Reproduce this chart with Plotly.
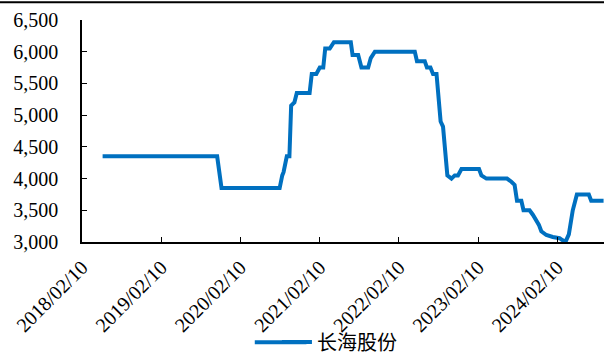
import plotly.graph_objects as go

# --- data (weekly price, step-like) ---
dates = [
    "2018-05-16", "2019-10-26", "2019-11-15", "2020-08-09", "2020-08-21",
    "2020-08-27", "2020-09-11", "2020-09-23", "2020-10-01", "2020-10-16",
    "2020-10-27", "2020-12-25", "2021-01-04", "2021-01-25", "2021-02-10",
    "2021-02-26", "2021-03-07", "2021-03-28", "2021-04-16", "2021-07-03",
    "2021-07-11", "2021-08-06", "2021-08-21", "2021-09-21", "2021-10-03",
    "2021-10-22", "2022-04-24", "2022-05-04", "2022-06-09", "2022-06-19",
    "2022-07-05", "2022-07-17", "2022-08-02", "2022-08-14", "2022-08-21",
    "2022-09-01", "2022-09-21", "2022-10-10", "2022-10-25", "2022-11-09",
    "2022-11-25", "2023-02-14", "2023-02-25", "2023-03-20", "2023-06-23",
    "2023-07-13", "2023-07-28", "2023-08-08", "2023-08-28", "2023-09-07",
    "2023-10-05", "2023-10-20", "2023-11-05", "2023-11-17", "2023-11-28",
    "2023-12-21", "2024-01-20", "2024-02-20", "2024-03-06", "2024-03-19",
    "2024-04-03", "2024-04-21", "2024-05-10", "2024-07-04", "2024-07-15",
    "2024-09-10",
]
prices = [
    4350, 4350, 3850, 3850, 4050,
    4100, 4350, 4350, 5150, 5200,
    5350, 5350, 5650, 5650, 5750,
    5750, 6050, 6050, 6150, 6150,
    5950, 5950, 5750, 5750, 5900,
    6000, 6000, 5850, 5850, 5750,
    5750, 5650, 5650, 5200, 4900,
    4820, 4050, 4000, 4050, 4050,
    4150, 4150, 4050, 4000, 4000,
    3950, 3900, 3650, 3650, 3500,
    3500, 3430, 3350, 3270, 3170,
    3110, 3080, 3060, 3025, 3005,
    3120, 3500, 3750, 3750, 3650,
    3650,
]
series_name = "长海股份"

tick_dates = ["2018-02-10", "2019-02-10", "2020-02-10", "2021-02-10",
              "2022-02-10", "2023-02-10", "2024-02-10"]
tick_text = [d.replace("-", "/") for d in tick_dates]
y_ticks = [3000, 3500, 4000, 4500, 5000, 5500, 6000, 6500]

FONT = "Liberation Serif, Times New Roman, Noto Sans CJK SC, serif"
BLUE = "#0070C0"

fig = go.Figure()
fig.add_trace(go.Scatter(
    x=dates, y=prices, mode="lines", name=series_name,
    line=dict(color=BLUE, width=4),
))

fig.update_layout(
    width=604, height=354,
    margin=dict(l=82, r=0, t=20, b=112),
    paper_bgcolor="white", plot_bgcolor="white",
    font=dict(family=FONT, size=20, color="black"),
    showlegend=True,
    legend=dict(orientation="h", xref="container", yref="container",
                x=0.562, xanchor="center", y=0.034, yanchor="middle",
                bgcolor="rgba(0,0,0,0)",
                font=dict(family=FONT, size=20)),
    shapes=[
        # thin black rule along the very top of the picture
        dict(type="line", xref="paper", yref="paper",
             x0=-0.2, x1=1.05, y0=1.08, y1=1.08,
             line=dict(color="black", width=2)),
        # longer legend key, as in the original
        dict(type="line", xref="paper", yref="paper",
             x0=0.331, x1=0.43, y0=-0.452, y1=-0.452,
             line=dict(color=BLUE, width=4)),
    ],
)

fig.update_xaxes(
    type="date", range=["2018-02-10", "2024-09-12"],
    tickvals=tick_dates, ticktext=tick_text, tickangle=-45,
    showgrid=False, zeroline=False, automargin=False,
    showline=True, linecolor="black", linewidth=1.5,
    ticks="inside", ticklen=5, tickcolor="black",
    ticklabelstandoff=4,
)
fig.update_yaxes(
    range=[3000, 6500], tickvals=y_ticks, tickformat=",",
    showgrid=False, zeroline=False, automargin=False,
    showline=True, linecolor="black", linewidth=1.5,
    ticks="inside", ticklen=5, tickcolor="black",
    ticklabelstandoff=18,
)

# page body margin would shift the fixed-size figure; remove it
fig.write_html("out.html", config={"displayModeBar": False},
               post_script="document.body.style.margin='0';")
